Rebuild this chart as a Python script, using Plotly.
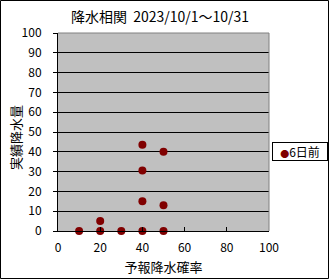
import plotly.graph_objects as go

# data
forecast_prob = [10, 20, 20, 30, 40, 40, 40, 40, 50, 50, 50]
actual_precip = [0, 0, 5, 0, 0, 15, 30.5, 43.5, 0, 13, 40]
series_name = "6日前"
title_text = "降水相関  2023/10/1～10/31"
x_title = "予報降水確率"
y_title = "実績降水量"

W, H = 330, 279
L, R, T, B = 58, 61, 33, 48
pw, ph = W - L - R, H - T - B
def px2x(p):
    return (p - L) / pw
def px2y(p):
    return (H - B - p) / ph

FONT = "Noto Sans CJK JP, sans-serif"
MARK = "#800000"

fig = go.Figure()
fig.add_trace(go.Scatter(
    x=forecast_prob, y=actual_precip, mode="markers", name=series_name,
    marker=dict(color=MARK, size=8, line=dict(width=0)),
    cliponaxis=False, showlegend=False,
))

fig.update_layout(
    width=W, height=H,
    margin=dict(l=L, r=R, t=T, b=B, autoexpand=False),
    paper_bgcolor="white", plot_bgcolor="#c0c0c0",
    font=dict(family=FONT, size=12, color="black"),
    title=dict(text=title_text, x=160 / W, xanchor="center", xref="container",
               y=1 - 17 / H, yanchor="middle", font=dict(size=14, family=FONT)),
    xaxis=dict(range=[0, 100], dtick=20, tick0=0, showgrid=False, zeroline=False,
               showline=True, linecolor="black", linewidth=1,
               ticks="inside", ticklen=4, tickcolor="black",
               ticklabelstandoff=6, tickfont=dict(size=12),
               title=dict(text=x_title, standoff=8, font=dict(size=13))),
    yaxis=dict(range=[0, 100], dtick=10, tick0=0, showgrid=True, gridcolor="black", gridwidth=1,
               zeroline=False, showline=True, linecolor="black", linewidth=1,
               ticks="outside", ticklen=4, tickcolor="black",
               ticklabelstandoff=9, tickfont=dict(size=12)),
    shapes=[
        dict(type="line", xref="paper", yref="paper", x0=0, x1=1, y0=1, y1=1,
             line=dict(color="#808080", width=1), layer="above"),
        dict(type="line", xref="paper", yref="paper", x0=1, x1=1, y0=0, y1=1,
             line=dict(color="#808080", width=1), layer="above"),
        dict(type="rect", xref="paper", yref="paper",
             x0=px2x(0.5), x1=px2x(328.5), y0=px2y(278.5), y1=px2y(0.5),
             line=dict(color="black", width=1), layer="below"),
    ],
    annotations=[
        dict(text=y_title, xref="paper", yref="paper", x=px2x(15), y=px2y(138),
             xanchor="center", yanchor="middle", textangle=-90, showarrow=False,
             font=dict(size=13, family=FONT)),
        dict(text=f"<span style='color:{MARK};font-size:9px'>●</span>{series_name}",
             xref="paper", yref="paper", x=px2x(272), y=px2y(142),
             xanchor="left", yanchor="top", showarrow=False,
             width=50, height=13, align="center",
             bordercolor="black", borderwidth=1, borderpad=2, bgcolor="white",
             font=dict(size=12, family=FONT)),
    ],
)

fig.write_html("out.html")
